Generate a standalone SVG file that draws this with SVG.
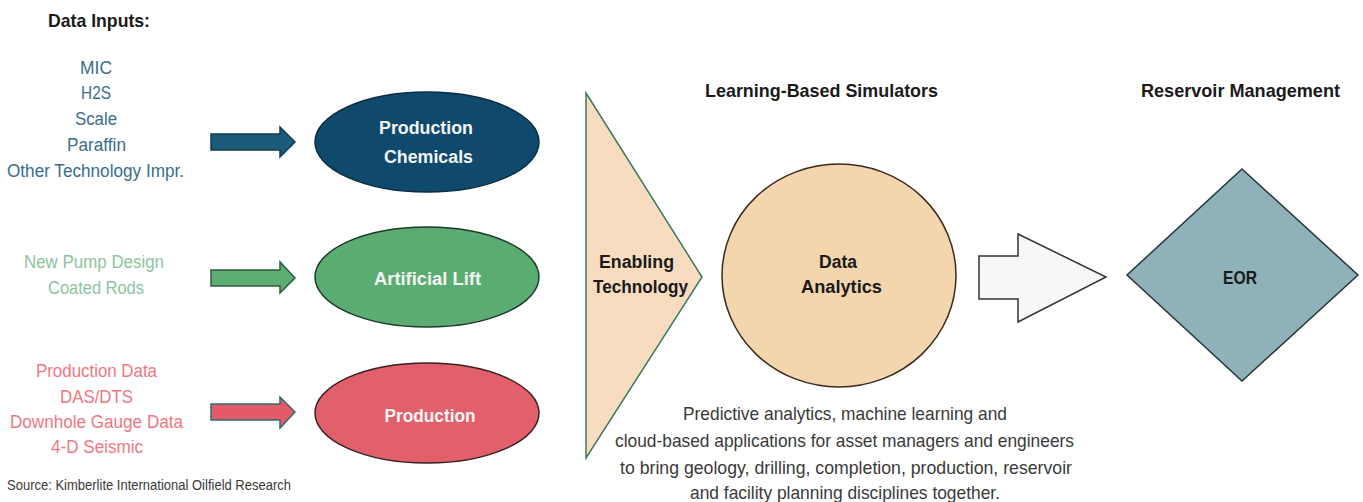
<svg xmlns="http://www.w3.org/2000/svg" width="1363" height="502" viewBox="0 0 1363 502">
  <style>
    text { font-family: "Liberation Sans", Arial, sans-serif; }
    .head { font-weight: bold; font-size: 19px; fill: #1a1a1a; }
    .item { font-size: 18px; text-anchor: middle; }
    .blue { fill: #3a6d8b; }
    .green { fill: #8cc59d; }
    .red { fill: #ef7681; }
    .lbl { font-weight: bold; font-size: 18px; text-anchor: middle; }
    .wlbl { fill: #f4f6f4; }
    .dlbl { fill: #1a1a1a; }
    .note { font-size: 18.5px; fill: #3a3a3a; text-anchor: middle; }
    .src { font-size: 15.5px; fill: #3a3a3a; }
  </style>

  <rect width="1363" height="502" fill="#ffffff"/>

  <!-- column headings -->
  <text class="head" x="48" y="27" textLength="102" lengthAdjust="spacingAndGlyphs">Data Inputs:</text>
  <text class="head" x="821.5" y="97" text-anchor="middle" textLength="233" lengthAdjust="spacingAndGlyphs">Learning-Based Simulators</text>
  <text class="head" x="1240.5" y="97" text-anchor="middle" textLength="199" lengthAdjust="spacingAndGlyphs">Reservoir Management</text>

  <!-- input lists -->
  <g id="inputs-chemicals" class="item blue">
    <text x="96" y="74" textLength="32" lengthAdjust="spacingAndGlyphs">MIC</text>
    <text x="96" y="99" textLength="30" lengthAdjust="spacingAndGlyphs">H2S</text>
    <text x="96" y="125" textLength="42" lengthAdjust="spacingAndGlyphs">Scale</text>
    <text x="96.5" y="151" textLength="59" lengthAdjust="spacingAndGlyphs">Paraffin</text>
    <text x="95.5" y="177" textLength="177" lengthAdjust="spacingAndGlyphs">Other Technology Impr.</text>
  </g>
  <g id="inputs-lift" class="item green">
    <text x="94" y="268" textLength="140" lengthAdjust="spacingAndGlyphs">New Pump Design</text>
    <text x="96" y="294" textLength="96" lengthAdjust="spacingAndGlyphs">Coated Rods</text>
  </g>
  <g id="inputs-production" class="item red">
    <text x="96.5" y="377" textLength="121" lengthAdjust="spacingAndGlyphs">Production Data</text>
    <text x="96.5" y="403" textLength="73" lengthAdjust="spacingAndGlyphs">DAS/DTS</text>
    <text x="96.5" y="428" textLength="173" lengthAdjust="spacingAndGlyphs">Downhole Gauge Data</text>
    <text x="97" y="453" textLength="92" lengthAdjust="spacingAndGlyphs">4-D Seismic</text>
  </g>

  <!-- connectors -->
  <g id="connectors">
    <path d="M211,134 H280 V127 L295,142 L280,157 V150 H211 Z" fill="#1c5a79" stroke="#123b50" stroke-width="1.5"/>
    <path d="M211,270 H280 V262 L295,278 L280,293 V286 H211 Z" fill="#5cae75" stroke="#2e5b3c" stroke-width="1.5"/>
    <path d="M211,404 H280 V397 L295,412 L280,428 V420 H211 Z" fill="#e35a68" stroke="#2f6e6e" stroke-width="1.5"/>
    <path d="M979,256 H1018 V234 L1106,277 L1018,322 V299 H979 Z" fill="#f7f7f7" stroke="#333333" stroke-width="1.5"/>
  </g>

  <!-- category ellipses -->
  <g id="production-chemicals">
    <ellipse cx="427" cy="142" rx="112" ry="50" fill="#0f4a6d" stroke="#0a2c40" stroke-width="1.5"/>
    <text class="lbl wlbl" x="426" y="134" textLength="94" lengthAdjust="spacingAndGlyphs">Production</text>
    <text class="lbl wlbl" x="428.5" y="163" textLength="89" lengthAdjust="spacingAndGlyphs">Chemicals</text>
  </g>
  <g id="artificial-lift">
    <ellipse cx="427" cy="277" rx="112" ry="50" fill="#5aac72" stroke="#1e3a28" stroke-width="1.5"/>
    <text class="lbl wlbl" x="427.5" y="285" textLength="107" lengthAdjust="spacingAndGlyphs">Artificial Lift</text>
  </g>
  <g id="production">
    <ellipse cx="427" cy="413" rx="112" ry="50" fill="#e2606b" stroke="#3a2222" stroke-width="1.5"/>
    <text class="lbl wlbl" x="430" y="422" textLength="91" lengthAdjust="spacingAndGlyphs">Production</text>
  </g>

  <!-- enabling technology wedge -->
  <g id="enabling-technology">
    <polygon points="586,93 702,277 586,458" fill="#f7dcc0" stroke="#3c7a5a" stroke-width="1.5"/>
    <text class="lbl dlbl" x="636.5" y="268" textLength="75" lengthAdjust="spacingAndGlyphs">Enabling</text>
    <text class="lbl dlbl" x="640.5" y="293" textLength="95" lengthAdjust="spacingAndGlyphs">Technology</text>
  </g>

  <!-- learning-based simulators -->
  <g id="data-analytics">
    <ellipse cx="839" cy="275.5" rx="117" ry="111.5" fill="#f3d5ae" stroke="#3a2a1c" stroke-width="1.5"/>
    <text class="lbl dlbl" x="838" y="268" textLength="38" lengthAdjust="spacingAndGlyphs">Data</text>
    <text class="lbl dlbl" x="841.5" y="293" textLength="81" lengthAdjust="spacingAndGlyphs">Analytics</text>
  </g>

  <!-- reservoir management -->
  <g id="eor">
    <polygon points="1242,169 1358,275 1242,381 1127,275" fill="#8fb1b9" stroke="#263636" stroke-width="1.5"/>
    <text class="lbl dlbl" x="1240" y="284" textLength="34" lengthAdjust="spacingAndGlyphs">EOR</text>
  </g>

  <!-- description -->
  <g id="description" class="note">
    <text x="845" y="420" textLength="324" lengthAdjust="spacingAndGlyphs">Predictive analytics, machine learning and</text>
    <text x="844.5" y="447" textLength="459" lengthAdjust="spacingAndGlyphs">cloud-based applications for asset managers and engineers</text>
    <text x="846" y="474" textLength="452" lengthAdjust="spacingAndGlyphs">to bring geology, drilling, completion, production, reservoir</text>
    <text x="845" y="499" textLength="310" lengthAdjust="spacingAndGlyphs">and facility planning disciplines together.</text>
  </g>

  <text class="src" x="7" y="490" textLength="284" lengthAdjust="spacingAndGlyphs">Source: Kimberlite International Oilfield Research</text>
</svg>
